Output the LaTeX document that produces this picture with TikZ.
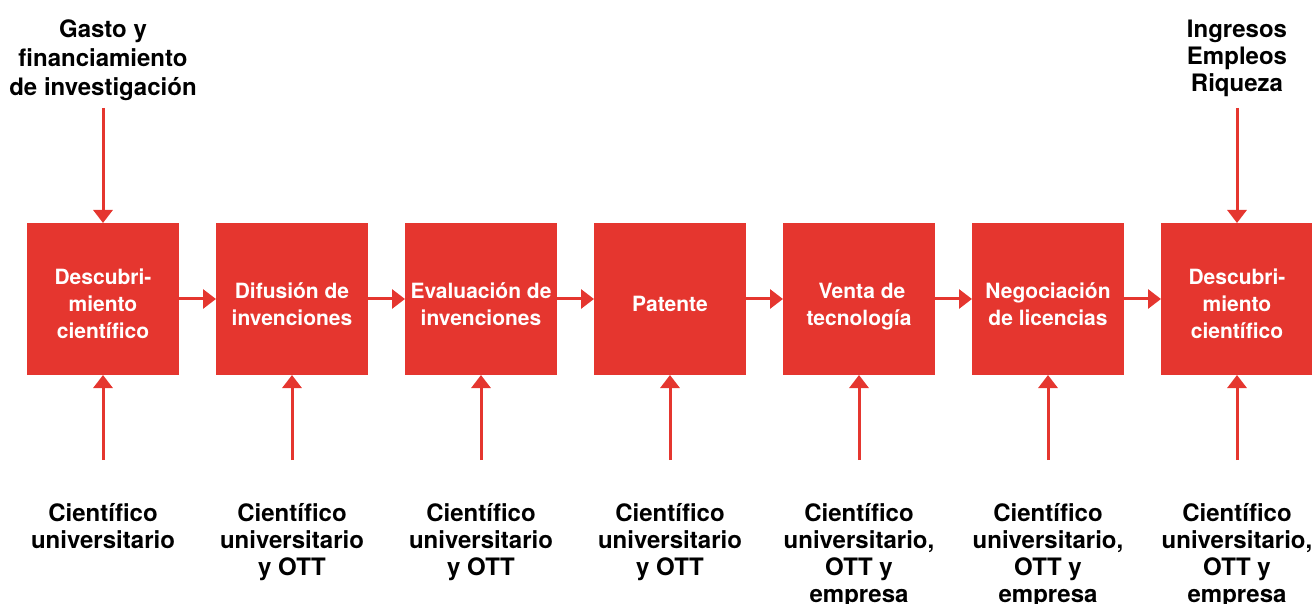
\documentclass[tikz,border=0pt]{standalone}
\usepackage{fontspec}
\setmainfont{TeX Gyre Heros}
\usepackage{tikz}
\usetikzlibrary{arrows.meta, positioning}
\definecolor{ottred}{RGB}{229,54,47}
\newcommand{\toprule}[1][12.7pt]{\rule{0pt}{#1}}
\tikzset{
    block/.style={rectangle, fill=ottred, text=white, text centered, align=center, minimum width=76pt, minimum height=76pt, inner sep=0pt, outer sep=0pt, font=\bfseries\fontsize{10.5}{13.5}\selectfont},
    actor/.style={align=center, inner sep=0pt, outer sep=0pt, font=\bfseries\fontsize{12}{13.5}\selectfont},
    arrow/.style={line width=1.5pt, draw=ottred, -{Triangle[width=9.5pt, length=6.5pt]}}
}

\begin{document}
\begin{tikzpicture}[node distance=18.5pt]
    \useasboundingbox (0,0) rectangle (656pt,-302pt);

    % Stages of the transfer process
    \node (D1) [block] at (51.5pt,-149.5pt) {\toprule Descubri-\\miento\\científico};
    \node (D2) [block, right=of D1] {\toprule Difusión de\\invenciones};
    \node (D3) [block, right=of D2] {\toprule Evaluación de\\invenciones};
    \node (D4) [block, right=of D3] {\toprule Patente};
    \node (D5) [block, right=of D4] {\toprule[15.7pt] Venta de\\tecnología};
    \node (D6) [block, right=of D5] {\toprule Negociación\\de licencias};
    \node (D7) [block, right=of D6] {\toprule Descubri-\\miento\\científico};

    % Who takes part
    \node (A1) [actor, below=64pt of D1] {Científico\\universitario};
    \node (A2) [actor, below=64pt of D2] {Científico\\universitario\\y OTT};
    \node (A3) [actor, below=64pt of D3] {Científico\\universitario\\y OTT};
    \node (A4) [actor, below=64pt of D4] {Científico\\universitario\\y OTT};
    \node (A5) [actor, below=64pt of D5] {Científico\\universitario,\\OTT y\\empresa};
    \node (A6) [actor, below=64pt of D6] {Científico\\universitario,\\OTT y\\empresa};
    \node (A7) [actor, below=64pt of D7] {Científico\\universitario,\\OTT y\\empresa};

    % Input and results
    \node (G) [actor, font=\bfseries\fontsize{12}{14.5}\selectfont, above=61pt of D1] {Gasto y\\financiamiento\\de investigación};
    \node (R) [actor, above=63pt of D7] {Ingresos\\Empleos\\Riqueza};

    % Flow between stages
    \draw [arrow] (D1) -- (D2);
    \draw [arrow] (D2) -- (D3);
    \draw [arrow] (D3) -- (D4);
    \draw [arrow] (D4) -- (D5);
    \draw [arrow] (D5) -- (D6);
    \draw [arrow] (D6) -- (D7);

    % Actors into stages
    \draw [arrow, shorten <=21.5pt] (A1) -- (D1);
    \draw [arrow, shorten <=21.5pt] (A2) -- (D2);
    \draw [arrow, shorten <=21.5pt] (A3) -- (D3);
    \draw [arrow, shorten <=21.5pt] (A4) -- (D4);
    \draw [arrow, shorten <=21.5pt] (A5) -- (D5);
    \draw [arrow, shorten <=21.5pt] (A6) -- (D6);
    \draw [arrow, shorten <=21.5pt] (A7) -- (D7);

    % Top arrows
    \draw [arrow, shorten <=3.5pt] (G) -- (D1);
    \draw [arrow, shorten <=5.5pt] (R) -- (D7);
\end{tikzpicture}
\end{document}
